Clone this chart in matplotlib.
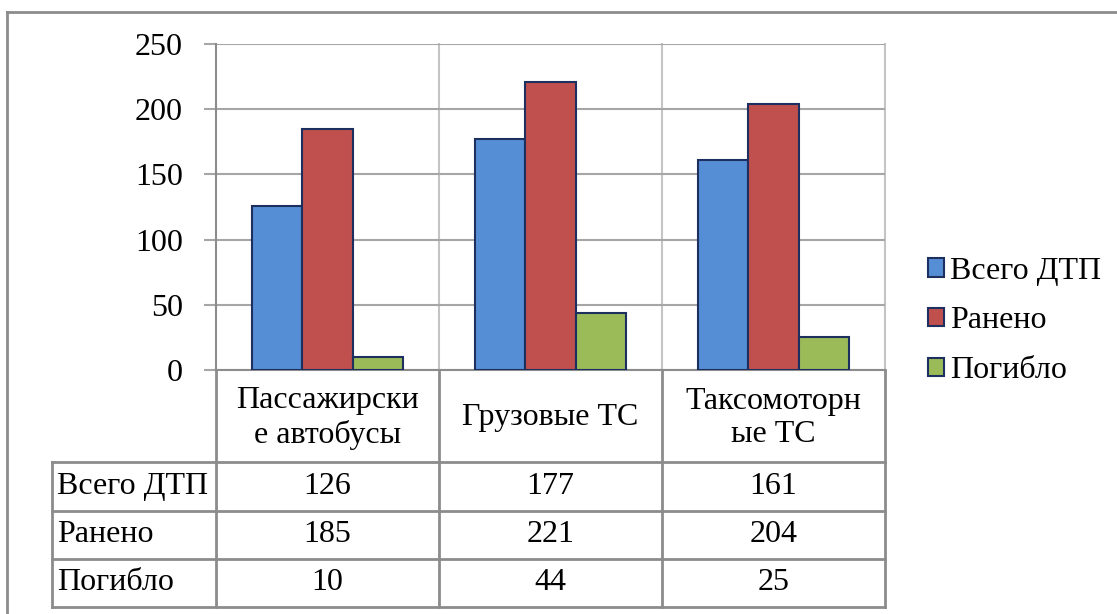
import matplotlib.pyplot as plt
from matplotlib.lines import Line2D
from matplotlib import transforms

plt.rcParams['font.family'] = ['Liberation Serif', 'DejaVu Serif']

categories = ['Пассажирски\nе автобусы', 'Грузовые ТС', 'Таксомоторн\nые ТС']
series_names = ['Всего ДТП', 'Ранено', 'Погибло']
total = [126, 177, 161]
injured = [185, 221, 204]
killed = [10, 44, 25]
series = [total, injured, killed]
colors = ['#558ED5', '#C0504D', '#9BBB59']
y_ticks = [0, 50, 100, 150, 200, 250]

W, H = 1117, 614
FS = 23
GRID = '#a6a6a6'
LINE = '#8c8c8c'


def fx(x):
    return x / W


def fy(y):
    return 1 - y / H


fig = plt.figure(figsize=(W / 100, H / 100), dpi=100)
ax = fig.add_axes([fx(216), fy(370), fx(885 - 216), (370 - 44) / H])

bw = 0.225
n = len(series)
for i, (name, vals, c) in enumerate(zip(series_names, series, colors)):
    xs = [k + (i - (n - 1) / 2) * bw for k in range(len(vals))]
    ax.bar(xs, vals, width=bw, color=c, edgecolor='#1c2f5e', linewidth=1.5,
           label=name, zorder=3)

ax.set_xlim(-0.5, len(categories) - 0.5)
ax.set_ylim(0, 250)
ax.set_yticks(y_ticks)
ax.set_xticks([])
ax.yaxis.grid(True, color=GRID, linewidth=1.5, zorder=0)
ax.tick_params(axis='y', length=9, width=1.5, color=GRID, pad=15,
               labelsize=FS)
for s in ['top', 'right']:
    ax.spines[s].set_visible(False)
for s in ['left', 'bottom']:
    ax.spines[s].set_color(LINE)
    ax.spines[s].set_linewidth(1.5)
for xv in [0.5, 1.5, 2.5]:
    ax.axvline(xv, color='#c4c4c4', linewidth=1.5, zorder=1, clip_on=False)

# data table under the plot
tr = transforms.blended_transform_factory(ax.transData, fig.transFigure)
x_lo = -0.5
for xv in [x_lo + k for k in range(len(categories) + 1)]:
    fig.add_artist(Line2D([xv, xv], [fy(370), fy(607)], transform=tr,
                          color=LINE, linewidth=2))
row_lines = [462, 511, 559, 607]
for yv in row_lines:
    fig.add_artist(Line2D([fx(52), fx(885)], [fy(yv), fy(yv)],
                          transform=fig.transFigure, color=LINE, linewidth=2))
fig.add_artist(Line2D([fx(52), fx(52)], [fy(462), fy(607)],
                      transform=fig.transFigure, color=LINE, linewidth=2))

for k, cat in enumerate(categories):
    fig.text(k, fy(418), cat, transform=tr, ha='center', va='center',
             fontsize=FS, linespacing=1.2)
for r, (name, vals) in enumerate(zip(series_names, series)):
    yc = (row_lines[r] + row_lines[r + 1]) / 2
    fig.text(fx(57), fy(yc), name, ha='left', va='center', fontsize=FS)
    for k, v in enumerate(vals):
        fig.text(k, fy(yc), str(v), transform=tr, ha='center', va='center',
                 fontsize=FS)

fig.legend(loc='center left', bbox_to_anchor=(fx(912), fy(321)),
           frameon=False, fontsize=FS, handlelength=0.5, handleheight=0.5,
           handletextpad=0.2, labelspacing=0.65, borderpad=0)

# outer frame
fig.add_artist(Line2D([fx(7), 1], [fy(12), fy(12)], transform=fig.transFigure,
                      color=LINE, linewidth=2))
fig.add_artist(Line2D([fx(7), fx(7)], [fy(12), 0], transform=fig.transFigure,
                      color=LINE, linewidth=2))

fig.savefig('out.png', dpi=100, facecolor='white')
